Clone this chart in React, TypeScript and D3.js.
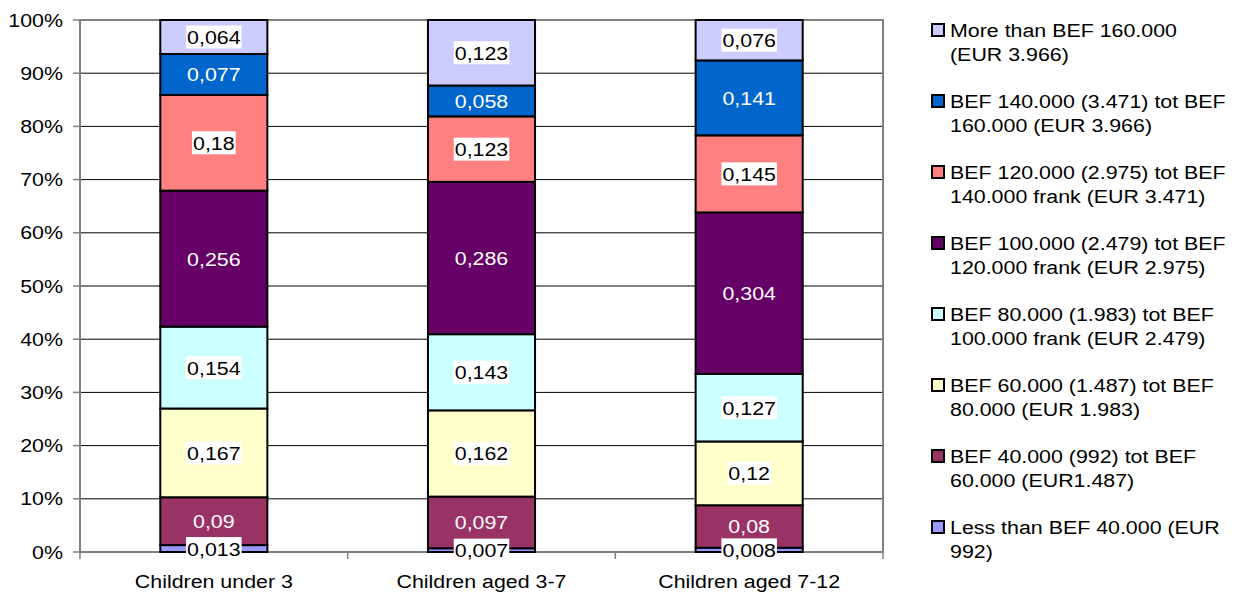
import * as d3 from 'd3'

// categories and series (bottom to top of each stack)
const categories = ['Children under 3', 'Children aged 3-7', 'Children aged 7-12']

const seriesNames = [
  ['Less than BEF 40.000 (EUR', '992)'],
  ['BEF 40.000 (992) tot BEF', '60.000 (EUR1.487)'],
  ['BEF 60.000 (1.487) tot BEF', '80.000 (EUR 1.983)'],
  ['BEF 80.000 (1.983) tot BEF', '100.000 frank (EUR 2.479)'],
  ['BEF 100.000 (2.479) tot BEF', '120.000 frank (EUR 2.975)'],
  ['BEF 120.000 (2.975) tot BEF', '140.000 frank (EUR 3.471)'],
  ['BEF 140.000 (3.471) tot BEF', '160.000 (EUR 3.966)'],
  ['More than BEF 160.000', '(EUR 3.966)'],
]

const seriesColors = ['#9999FF', '#993366', '#FFFFCC', '#CCFFFF', '#660066', '#FF8080', '#0066CC', '#CCCCFF']
const darkSeries = [false, true, false, false, true, false, true, false]

// values per series, one per category
const lessThan40 = [0.013, 0.007, 0.008]
const from40to60 = [0.09, 0.097, 0.08]
const from60to80 = [0.167, 0.162, 0.12]
const from80to100 = [0.154, 0.143, 0.127]
const from100to120 = [0.256, 0.286, 0.304]
const from120to140 = [0.18, 0.123, 0.145]
const from140to160 = [0.077, 0.058, 0.141]
const moreThan160 = [0.064, 0.123, 0.076]

const seriesValues = [lessThan40, from40to60, from60to80, from80to100, from100to120, from120to140, from140to160, moreThan160]

const yTicks = [0, 0.1, 0.2, 0.3, 0.4, 0.5, 0.6, 0.7, 0.8, 0.9, 1]

const FONT = 'Arial, "Liberation Sans", sans-serif'
const FS = 18.6
const SX = 1.15 // source rendering is stretched horizontally

function T({ x, y, anchor = 'start', fill = '#000', children }: { x: number; y: number; anchor?: string; fill?: string; children: string }) {
  return (
    <text transform={`translate(${x},${y}) scale(${SX},1)`} textAnchor={anchor} fill={fill} fontFamily={FONT} fontSize={FS}>
      {children}
    </text>
  )
}

const fmt = (v: number) => String(v).replace('.', ',')
const textW = (s: string) => {
  let w = 0
  for (const c of s) w += c === ',' ? 0.278 : 0.556
  return w * FS * SX
}

export default function App() {
  const margin = { left: 80, top: 20, right: 883, bottom: 552 }

  const x = d3.scaleBand<string>().domain(categories).range([margin.left, margin.right]).paddingInner(0).paddingOuter(0)
  const y = d3.scaleLinear().domain([0, 1]).range([margin.bottom, margin.top])
  const barW = x.bandwidth() * 0.4

  const rows = categories.map((c, ci) => {
    const r: Record<string, number | string> = { cat: c }
    const total = d3.sum(seriesValues, (s) => s[ci])
    seriesValues.forEach((s, si) => (r['s' + si] = s[ci] / total))
    return r
  })
  const stack = d3.stack<Record<string, number | string>>().keys(seriesValues.map((_, i) => 's' + i))
  const stacked = stack(rows as any)

  const legendX = 932
  const legendY = 30
  const legendStep = 71

  return (
    <svg width={1247} height={595} style={{ position: 'absolute', left: 0, top: 0, background: '#fff' }}>
      {/* gridlines */}
      {yTicks.map((t) => (
        <line key={t} x1={margin.left} x2={margin.right} y1={y(t)} y2={y(t)} stroke="#000" strokeWidth={1} />
      ))}
      {/* plot frame */}
      <rect x={margin.left} y={margin.top} width={margin.right - margin.left} height={margin.bottom - margin.top} fill="none" stroke="#808080" strokeWidth={2} />
      {/* y ticks */}
      {yTicks.map((t) => (
        <g key={'yt' + t}>
          <line x1={margin.left - 7} x2={margin.left} y1={y(t)} y2={y(t)} stroke="#808080" strokeWidth={1.5} />
          <T x={63} y={y(t) + 6.5} anchor="end">{`${Math.round(t * 100)}%`}</T>
        </g>
      ))}
      {/* x ticks */}
      {[0, 1, 2, 3].map((i) => (
        <line key={'xt' + i} x1={margin.left + i * x.step()} x2={margin.left + i * x.step()} y1={margin.bottom} y2={margin.bottom + 7} stroke="#808080" strokeWidth={1.5} />
      ))}
      {categories.map((c) => (
        <T key={c} x={x(c)! + x.bandwidth() / 2} y={588} anchor="middle">{c}</T>
      ))}
      {/* bars */}
      {stacked.map((layer, si) =>
        layer.map((d, ci) => (
          <rect
            key={`${si}-${ci}`}
            x={x(categories[ci])! + (x.bandwidth() - barW) / 2}
            y={y(d[1])}
            width={barW}
            height={y(d[0]) - y(d[1])}
            fill={seriesColors[si]}
            stroke="#000"
            strokeWidth={2}
          />
        ))
      )}
      {/* data labels */}
      {stacked.map((layer, si) =>
        layer.map((d, ci) => {
          const cx = x(categories[ci])! + x.bandwidth() / 2
          const cy = y((d[0] + d[1]) / 2)
          const label = fmt(seriesValues[si][ci])
          const w = textW(label) + 2
          return (
            <g key={`l${si}-${ci}`}>
              {!darkSeries[si] && <rect x={cx - w / 2} y={cy - 11.5} width={w} height={23} fill="#fff" />}
              <T x={cx} y={cy + 7} anchor="middle" fill={darkSeries[si] ? '#fff' : '#000'}>{label}</T>
            </g>
          )
        })
      )}
      {/* legend, top item = last series */}
      {seriesNames
        .map((name, i) => ({ name, i }))
        .reverse()
        .map(({ name, i }, k) => {
          const ty = legendY + k * legendStep
          return (
            <g key={'lg' + i}>
              <rect x={legendX} y={ty - 6} width={12} height={12} fill={seriesColors[i]} stroke="#000" strokeWidth={2} />
              <T x={950} y={ty + 6.5}>{name[0]}</T>
              <T x={950} y={ty + 30.5}>{name[1]}</T>
            </g>
          )
        })}
    </svg>
  )
}
